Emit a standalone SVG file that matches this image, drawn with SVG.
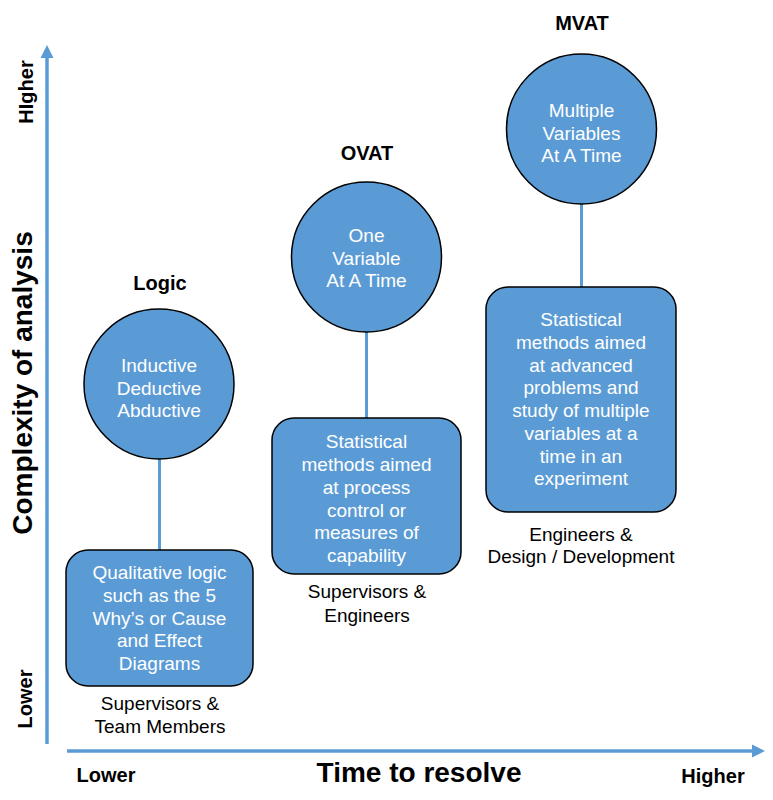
<svg xmlns="http://www.w3.org/2000/svg" width="773" height="800" viewBox="0 0 773 800">
<style>
  .node { fill: #5B9BD5; stroke: #000; stroke-width: 1.5; }
  .inner { font-family: "Liberation Sans", Arial, sans-serif; font-size: 19px; fill: #fff; text-anchor: middle; }
  .cap { font-family: "Liberation Sans", Arial, sans-serif; font-size: 19px; fill: #000; text-anchor: middle; }
  .title { font-family: "Liberation Sans", Arial, sans-serif; font-size: 20px; font-weight: bold; fill: #000; text-anchor: middle; }
  .axis { font-family: "Liberation Sans", Arial, sans-serif; font-weight: bold; fill: #000; text-anchor: middle; }
  .conn { stroke: #5B9BD5; stroke-width: 3; fill: none; }
  .axisline { stroke: #5B9BD5; stroke-width: 3.5; fill: none; }
</style>
<rect width="773" height="800" fill="#fff"/>

<g id="axes">
  <line class="axisline" x1="47" y1="744" x2="47" y2="57"/>
  <polygon points="47,45 40.5,58 53.5,58" fill="#5B9BD5"/>
  <line class="axisline" x1="67" y1="751" x2="752" y2="751"/>
  <polygon points="765,751 752,744.5 752,757.5" fill="#5B9BD5"/>
  <text class="axis" font-size="20" transform="translate(33,92) rotate(-90)">HIgher</text>
  <text class="axis" font-size="28" transform="translate(32,383) rotate(-90)">Complexity of analysis</text>
  <text class="axis" font-size="20" transform="translate(32,699) rotate(-90)">Lower</text>
  <text class="axis" font-size="20" x="106" y="782">Lower</text>
  <text class="axis" font-size="28" x="419" y="782">Time to resolve</text>
  <text class="axis" font-size="20" x="713" y="783">Higher</text>
</g>

<g id="connectors">
  <line class="conn" x1="159.5" y1="459" x2="159.5" y2="550"/>
  <line class="conn" x1="366.5" y1="332" x2="366.5" y2="418"/>
  <line class="conn" x1="581.5" y1="204" x2="581.5" y2="287"/>
</g>

<g id="logic-circle">
  <text class="title" x="160" y="290">Logic</text>
  <circle class="node" cx="159" cy="384" r="75"/>
  <text class="inner" x="159" y="372">Inductive</text>
  <text class="inner" x="159" y="395">Deductive</text>
  <text class="inner" x="159" y="417">Abductive</text>
</g>

<g id="logic-box">
  <rect class="node" x="66" y="550" width="187" height="136" rx="22"/>
  <text class="inner" x="159.5" y="579">Qualitative logic</text>
  <text class="inner" x="159.5" y="602">such as the 5</text>
  <text class="inner" x="159.5" y="625">Why’s or Cause</text>
  <text class="inner" x="159.5" y="647">and Effect</text>
  <text class="inner" x="159.5" y="670">Diagrams</text>
  <text class="cap" x="160" y="710">Supervisors &amp;</text>
  <text class="cap" x="160" y="733">Team Members</text>
</g>

<g id="ovat-circle">
  <text class="title" x="367" y="160">OVAT</text>
  <circle class="node" cx="366.5" cy="257" r="75"/>
  <text class="inner" x="366.5" y="242">One</text>
  <text class="inner" x="366.5" y="265">Variable</text>
  <text class="inner" x="366.5" y="287">At A Time</text>
</g>

<g id="ovat-box">
  <rect class="node" x="272" y="418" width="189" height="156" rx="22"/>
  <text class="inner" x="366.5" y="448">Statistical</text>
  <text class="inner" x="366.5" y="471">methods aimed</text>
  <text class="inner" x="366.5" y="494">at process</text>
  <text class="inner" x="366.5" y="517">control or</text>
  <text class="inner" x="366.5" y="539">measures of</text>
  <text class="inner" x="366.5" y="562">capability</text>
  <text class="cap" x="367" y="598">Supervisors &amp;</text>
  <text class="cap" x="367" y="622">Engineers</text>
</g>

<g id="mvat-circle">
  <text class="title" x="582" y="30">MVAT</text>
  <circle class="node" cx="581.5" cy="129" r="75"/>
  <text class="inner" x="581.5" y="117">Multiple</text>
  <text class="inner" x="581.5" y="140">Variables</text>
  <text class="inner" x="581.5" y="162">At A Time</text>
</g>

<g id="mvat-box">
  <rect class="node" x="486" y="287" width="190" height="225" rx="22"/>
  <text class="inner" x="581" y="326">Statistical</text>
  <text class="inner" x="581" y="349">methods aimed</text>
  <text class="inner" x="581" y="372">at advanced</text>
  <text class="inner" x="581" y="394">problems and</text>
  <text class="inner" x="581" y="417">study of multiple</text>
  <text class="inner" x="581" y="440">variables at a</text>
  <text class="inner" x="581" y="463">time in an</text>
  <text class="inner" x="581" y="485">experiment</text>
  <text class="cap" x="581" y="541">Engineers &amp;</text>
  <text class="cap" x="581" y="563">Design / Development</text>
</g>
</svg>
